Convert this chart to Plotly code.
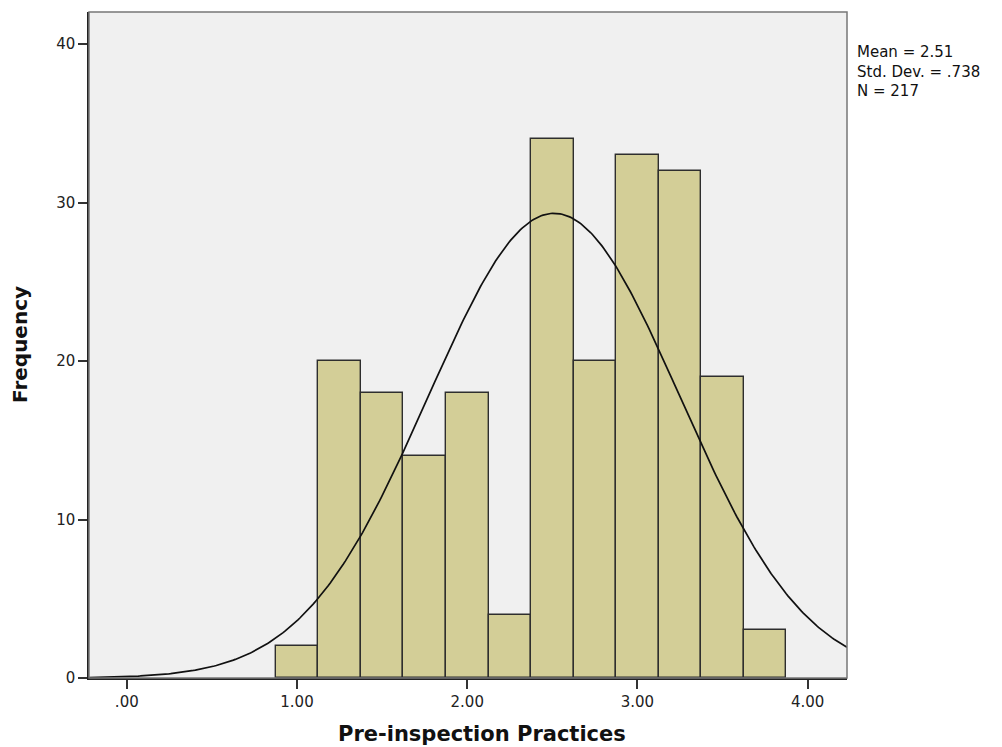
import numpy as np
import plotly.graph_objects as go

# Histogram bins (lower edges) and frequencies
bin_lower = [0.875, 1.125, 1.375, 1.625, 1.875, 2.125, 2.375, 2.625, 2.875, 3.125, 3.375, 3.625]
bin_width = 0.25
freq = [2, 20, 18, 14, 18, 4, 34, 20, 33, 32, 19, 3]

mean_val = 2.51
sd_val = 0.738
n_val = 217

x_tickvals = [0, 1, 2, 3, 4]
x_ticktext = [".00", "1.00", "2.00", "3.00", "4.00"]
y_tickvals = [0, 10, 20, 30, 40]

x_range = [-0.222, 4.231]
y_range = [0, 42.03]

centers = [b + bin_width / 2 for b in bin_lower]

# Normal curve overlay from displayed mean/sd/N
xc = np.linspace(x_range[0], x_range[1], 400)
yc = n_val * bin_width / (sd_val * np.sqrt(2 * np.pi)) * np.exp(-0.5 * ((xc - mean_val) / sd_val) ** 2)

fig = go.Figure()
fig.add_trace(go.Bar(
    x=centers, y=freq, width=[bin_width] * len(freq),
    marker=dict(color="#D3CE97", line=dict(color="#2e2e2e", width=1.4)),
    showlegend=False, hoverinfo="x+y",
))
fig.add_trace(go.Scatter(
    x=xc, y=yc, mode="lines", line=dict(color="#111111", width=1.7),
    showlegend=False, hoverinfo="skip",
))

font_family = "DejaVu Sans, Arial, sans-serif"

fig.update_layout(
    width=1002, height=747,
    margin=dict(l=89, r=155, t=12, b=69),
    paper_bgcolor="white",
    plot_bgcolor="#F0F0F0",
    bargap=0,
    font=dict(family=font_family, color="#111111", size=15),
    xaxis=dict(
        range=x_range, tickvals=x_tickvals, ticktext=x_ticktext,
        showgrid=False, zeroline=False, automargin=False,
        showline=True, linecolor="#222222", linewidth=1.5,
        ticks="outside", ticklen=9, tickwidth=1.5, tickcolor="#333333",
        tickfont=dict(size=15, family=font_family, color="#222222"),
    ),
    yaxis=dict(
        range=y_range, tickvals=y_tickvals,
        showgrid=False, zeroline=False, automargin=False,
        showline=True, linecolor="#222222", linewidth=1.5,
        ticks="outside", ticklen=9, tickwidth=1.5, tickcolor="#333333",
        tickfont=dict(size=15, family=font_family, color="#222222"),
    ),
    shapes=[dict(type="rect", xref="paper", yref="paper", x0=0, y0=0, x1=1, y1=1,
                 line=dict(color="#777777", width=1.5), fillcolor="rgba(0,0,0,0)", layer="above")],
    annotations=[
        dict(
            xref="paper", yref="paper", x=1.0, y=1.0, xshift=8, yshift=-29,
            xanchor="left", yanchor="top", align="left", showarrow=False,
            text=f"Mean = {mean_val:.2f}<br>Std. Dev. = {str(sd_val)[1:]}<br>N = {n_val}",
            font=dict(size=15, family=font_family, color="#111111"),
        ),
        dict(
            xref="paper", yref="paper", x=0.5, y=0, xshift=14, yshift=-56,
            xanchor="center", yanchor="middle", showarrow=False,
            text="<b>Pre-inspection Practices</b>",
            font=dict(size=21, family=font_family, color="#111111"),
        ),
        dict(
            xref="paper", yref="paper", x=0, y=0.5, xshift=-69,
            xanchor="center", yanchor="middle", showarrow=False, textangle=-90,
            text="<b>Frequency</b>",
            font=dict(size=20, family=font_family, color="#111111"),
        ),
    ],
)

fig.write_html(
    "out.html",
    config={"displayModeBar": False},
    post_script="document.body.style.margin='0';document.body.style.overflow='hidden';",
)
